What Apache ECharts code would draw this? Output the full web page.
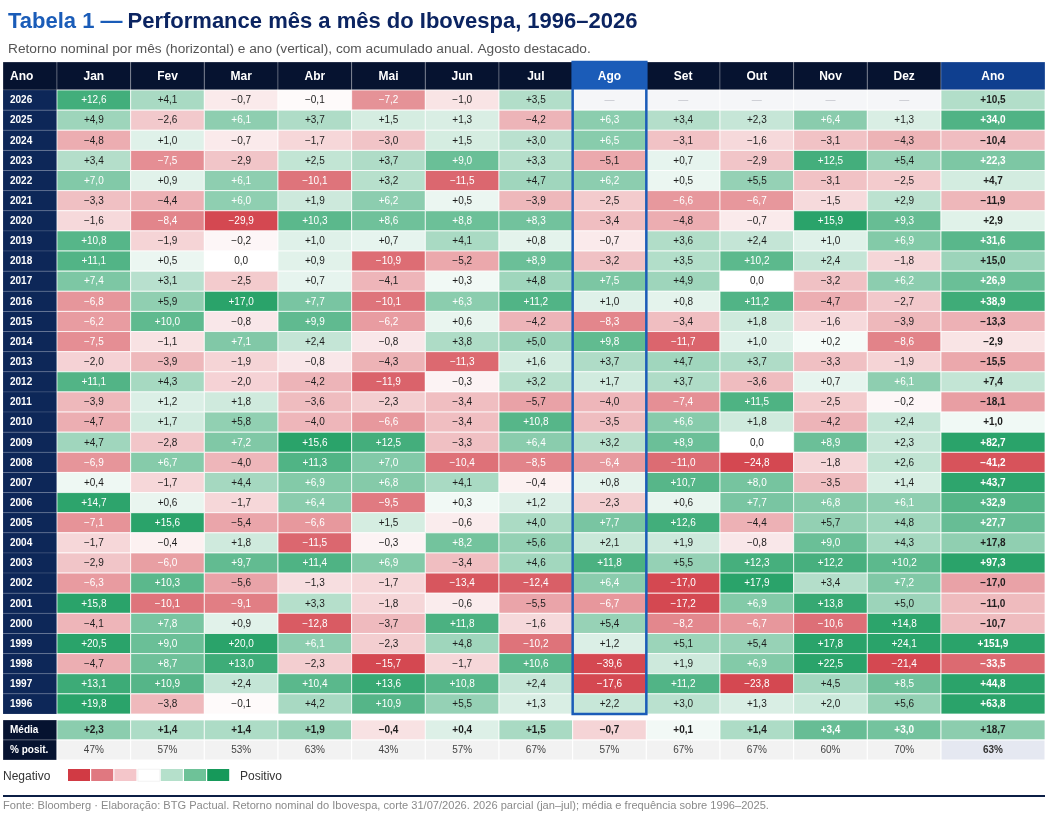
<!DOCTYPE html>
<html lang="pt-BR">
<head>
<meta charset="UTF-8">
<script src="https://cdn.jsdelivr.net/npm/echarts@6/dist/echarts.min.js"></script>
<style>
  html, body { margin: 0; padding: 0; background: #ffffff; }
  #main { width: 1059px; height: 823px; }
</style>
</head>
<body>
<div id="main"></div>
<script>
// ---- data ----
var months = ['Jan', 'Fev', 'Mar', 'Abr', 'Mai', 'Jun', 'Jul', 'Ago', 'Set', 'Out', 'Nov', 'Dez'];
var years = ['2026', '2025', '2024', '2023', '2022', '2021', '2020', '2019', '2018', '2017', '2016',
  '2015', '2014', '2013', '2012', '2011', '2010', '2009', '2008', '2007', '2006', '2005', '2004',
  '2003', '2002', '2001', '2000', '1999', '1998', '1997', '1996'];

// monthly returns (%), Jan..Dez
var r2026 = [12.6, 4.1, -0.7, -0.1, -7.2, -1.0, 3.5, null, null, null, null, null];
var r2025 = [4.9, -2.6, 6.1, 3.7, 1.5, 1.3, -4.2, 6.3, 3.4, 2.3, 6.4, 1.3];
var r2024 = [-4.8, 1.0, -0.7, -1.7, -3.0, 1.5, 3.0, 6.5, -3.1, -1.6, -3.1, -4.3];
var r2023 = [3.4, -7.5, -2.9, 2.5, 3.7, 9.0, 3.3, -5.1, 0.7, -2.9, 12.5, 5.4];
var r2022 = [7.0, 0.9, 6.1, -10.1, 3.2, -11.5, 4.7, 6.2, 0.5, 5.5, -3.1, -2.5];
var r2021 = [-3.3, -4.4, 6.0, 1.9, 6.2, 0.5, -3.9, -2.5, -6.6, -6.7, -1.5, 2.9];
var r2020 = [-1.6, -8.4, -29.9, 10.3, 8.6, 8.8, 8.3, -3.4, -4.8, -0.7, 15.9, 9.3];
var r2019 = [10.8, -1.9, -0.2, 1.0, 0.7, 4.1, 0.8, -0.7, 3.6, 2.4, 1.0, 6.9];
var r2018 = [11.1, 0.5, 0.0, 0.9, -10.9, -5.2, 8.9, -3.2, 3.5, 10.2, 2.4, -1.8];
var r2017 = [7.4, 3.1, -2.5, 0.7, -4.1, 0.3, 4.8, 7.5, 4.9, 0.0, -3.2, 6.2];
var r2016 = [-6.8, 5.9, 17.0, 7.7, -10.1, 6.3, 11.2, 1.0, 0.8, 11.2, -4.7, -2.7];
var r2015 = [-6.2, 10.0, -0.8, 9.9, -6.2, 0.6, -4.2, -8.3, -3.4, 1.8, -1.6, -3.9];
var r2014 = [-7.5, -1.1, 7.1, 2.4, -0.8, 3.8, 5.0, 9.8, -11.7, 1.0, 0.2, -8.6];
var r2013 = [-2.0, -3.9, -1.9, -0.8, -4.3, -11.3, 1.6, 3.7, 4.7, 3.7, -3.3, -1.9];
var r2012 = [11.1, 4.3, -2.0, -4.2, -11.9, -0.3, 3.2, 1.7, 3.7, -3.6, 0.7, 6.1];
var r2011 = [-3.9, 1.2, 1.8, -3.6, -2.3, -3.4, -5.7, -4.0, -7.4, 11.5, -2.5, -0.2];
var r2010 = [-4.7, 1.7, 5.8, -4.0, -6.6, -3.4, 10.8, -3.5, 6.6, 1.8, -4.2, 2.4];
var r2009 = [4.7, -2.8, 7.2, 15.6, 12.5, -3.3, 6.4, 3.2, 8.9, 0.0, 8.9, 2.3];
var r2008 = [-6.9, 6.7, -4.0, 11.3, 7.0, -10.4, -8.5, -6.4, -11.0, -24.8, -1.8, 2.6];
var r2007 = [0.4, -1.7, 4.4, 6.9, 6.8, 4.1, -0.4, 0.8, 10.7, 8.0, -3.5, 1.4];
var r2006 = [14.7, 0.6, -1.7, 6.4, -9.5, 0.3, 1.2, -2.3, 0.6, 7.7, 6.8, 6.1];
var r2005 = [-7.1, 15.6, -5.4, -6.6, 1.5, -0.6, 4.0, 7.7, 12.6, -4.4, 5.7, 4.8];
var r2004 = [-1.7, -0.4, 1.8, -11.5, -0.3, 8.2, 5.6, 2.1, 1.9, -0.8, 9.0, 4.3];
var r2003 = [-2.9, -6.0, 9.7, 11.4, 6.9, -3.4, 4.6, 11.8, 5.5, 12.3, 12.2, 10.2];
var r2002 = [-6.3, 10.3, -5.6, -1.3, -1.7, -13.4, -12.4, 6.4, -17.0, 17.9, 3.4, 7.2];
var r2001 = [15.8, -10.1, -9.1, 3.3, -1.8, -0.6, -5.5, -6.7, -17.2, 6.9, 13.8, 5.0];
var r2000 = [-4.1, 7.8, 0.9, -12.8, -3.7, 11.8, -1.6, 5.4, -8.2, -6.7, -10.6, 14.8];
var r1999 = [20.5, 9.0, 20.0, 6.1, -2.3, 4.8, -10.2, 1.2, 5.1, 5.4, 17.8, 24.1];
var r1998 = [-4.7, 8.7, 13.0, -2.3, -15.7, -1.7, 10.6, -39.6, 1.9, 6.9, 22.5, -21.4];
var r1997 = [13.1, 10.9, 2.4, 10.4, 13.6, 10.8, 2.4, -17.6, 11.2, -23.8, 4.5, 8.5];
var r1996 = [19.8, -3.8, -0.1, 4.2, 10.9, 5.5, 1.3, 2.2, 3.0, 1.3, 2.0, 5.6];

var monthly = [r2026, r2025, r2024, r2023, r2022, r2021, r2020, r2019, r2018, r2017, r2016,
  r2015, r2014, r2013, r2012, r2011, r2010, r2009, r2008, r2007, r2006, r2005, r2004,
  r2003, r2002, r2001, r2000, r1999, r1998, r1997, r1996];

// accumulated return per year, same order as years
var annual = [10.5, 34.0, -10.4, 22.3, 4.7, -11.9, 2.9, 31.6, 15.0, 26.9, 38.9,
  -13.3, -2.9, -15.5, 7.4, -18.1, 1.0, 82.7, -41.2, 43.7, 32.9, 27.7, 17.8,
  97.3, -17.0, -11.0, -10.7, 151.9, -33.5, 44.8, 63.8];

// footer rows (1996–2025)
var footRows = ['Média', '% posit.'];
var mediaMonths = [2.3, 1.4, 1.4, 1.9, -0.4, 0.4, 1.5, -0.7, 0.1, 1.4, 3.4, 3.0];
var mediaAnnual = 18.7;
var positMonths = [47, 57, 53, 63, 43, 57, 67, 57, 67, 67, 60, 70];
var positAnnual = 63;

var highlightMonth = 'Ago';

// ---- styling helpers ----
var FONT = '"Liberation Sans", Arial, sans-serif';
var GREEN = [42, 163, 106];
var RED = [212, 72, 81];

function heat(v, scale) {
  var t = Math.pow(Math.min(1, Math.abs(v) / scale), 0.7);
  var end = v >= 0 ? GREEN : RED;
  var c = end.map(function (e) { return Math.round(255 + (e - 255) * t); });
  return 'rgb(' + c.join(',') + ')';
}

function fmt(v) {
  if (v === null) return '\u2014';
  var s = Math.abs(v).toFixed(1).replace('.', ',');
  return v > 0 ? '+' + s : (v < 0 ? '\u2212' + s : s);
}

// column groups (label, months, annual) x row bands (header, body, footer)
var COLS = [{ left: 3, width: 54 }, { left: 57, width: 884 }, { left: 941, width: 104 }];
var BANDS = [{ top: 62, height: 28 }, { top: 90, height: 624 }, { top: 720, height: 40 }];
var xCats = [['Ano'], months, ['Ano']];
var yCats = [['h'], years, footRows];

var grids = [], xAxes = [], yAxes = [];
BANDS.forEach(function (b, r) {
  COLS.forEach(function (c, k) {
    grids.push({ left: c.left, width: c.width, top: b.top, height: b.height });
    xAxes.push({ type: 'category', gridIndex: r * 3 + k, data: xCats[k], show: false });
    yAxes.push({ type: 'category', gridIndex: r * 3 + k, data: yCats[r], inverse: true, show: false });
  });
});

function cellSeries(gi, cells) {
  return {
    type: 'custom',
    coordinateSystem: 'cartesian2d',
    xAxisIndex: gi,
    yAxisIndex: gi,
    silent: true,
    data: cells.map(function (c) { return [c.x, c.y]; }),
    renderItem: function (params, api) {
      var c = cells[params.dataIndex];
      var p = api.coord([api.value(0), api.value(1)]);
      var s = api.size([1, 1]);
      var x0 = p[0] - s[0] / 2, y0 = p[1] - s[1] / 2;
      return {
        type: 'group',
        children: [
          { type: 'rect', shape: { x: x0, y: y0, width: s[0], height: s[1] },
            style: { fill: c.fill, stroke: c.stroke || 'rgba(255,255,255,0.75)', lineWidth: 1 } },
          { type: 'text', x: c.align === 'left' ? x0 + 7 : p[0], y: p[1] + 0.5,
            style: { text: c.text, fill: c.color, font: c.font, align: c.align || 'center', verticalAlign: 'middle' } }
        ]
      };
    }
  };
}

var series = [];
var NAVY_HEAD = '#061330', NAVY_YEAR = '#0d2758', BLUE_AGO = '#1b5cb8', BLUE_ANO = '#0f3f8f';
var headFont = 'bold 12px ' + FONT;
var cellFont = '10px ' + FONT;
var boldFont = 'bold 10px ' + FONT;
var lineDark = 'rgba(255,255,255,0.25)';

// header
series.push(cellSeries(0, [{ x: 0, y: 0, text: 'Ano', fill: NAVY_HEAD, color: '#fff', font: headFont, align: 'left', stroke: lineDark }]));
series.push(cellSeries(1, months.map(function (m, i) {
  return { x: i, y: 0, text: m, fill: m === highlightMonth ? BLUE_AGO : NAVY_HEAD, color: '#fff', font: headFont, stroke: lineDark };
})));
series.push(cellSeries(2, [{ x: 0, y: 0, text: 'Ano', fill: BLUE_ANO, color: '#fff', font: headFont, stroke: lineDark }]));

// body: year labels
series.push(cellSeries(3, years.map(function (y, i) {
  return { x: 0, y: i, text: y, fill: NAVY_YEAR, color: '#fff', font: boldFont, align: 'left', stroke: 'rgba(255,255,255,0.12)' };
})));
// body: monthly cells
var bodyCells = [];
monthly.forEach(function (row, yi) {
  row.forEach(function (v, xi) {
    if (v === null) {
      bodyCells.push({ x: xi, y: yi, text: fmt(v), fill: '#f5f6f8', color: '#c4c6cc', font: cellFont });
    } else {
      bodyCells.push({ x: xi, y: yi, text: fmt(v), fill: heat(v, 15), color: Math.abs(v) >= 6 ? '#ffffff' : '#1d1d1d', font: cellFont });
    }
  });
});
series.push(cellSeries(4, bodyCells));
// body: annual
series.push(cellSeries(5, annual.map(function (v, i) {
  return { x: 0, y: i, text: fmt(v), fill: heat(v, 45), color: Math.abs(v) >= 20 ? '#ffffff' : '#1d1d1d', font: boldFont };
})));
// highlight frame around the August column
series.push({
  type: 'custom', coordinateSystem: 'cartesian2d', xAxisIndex: 4, yAxisIndex: 4, silent: true, z: 5,
  data: [[months.indexOf(highlightMonth), 0]],
  renderItem: function (params, api) {
    var a = api.coord([api.value(0), 0]);
    var b = api.coord([api.value(0), years.length - 1]);
    var s = api.size([1, 1]);
    return { type: 'rect', shape: { x: a[0] - s[0] / 2, y: a[1] - s[1] / 2 - 28, width: s[0], height: b[1] - a[1] + s[1] + 28 },
      style: { fill: null, stroke: BLUE_AGO, lineWidth: 2.5 } };
  }
});

// footer
series.push(cellSeries(6, footRows.map(function (t, i) {
  return { x: 0, y: i, text: t, fill: NAVY_HEAD, color: '#fff', font: boldFont, align: 'left', stroke: lineDark };
})));
var footCells = [];
mediaMonths.forEach(function (v, i) {
  footCells.push({ x: i, y: 0, text: fmt(v), fill: heat(v, 5.5), color: Math.abs(v) >= 2.8 ? '#ffffff' : '#1d1d1d', font: boldFont });
});
positMonths.forEach(function (v, i) {
  footCells.push({ x: i, y: 1, text: v + '%', fill: '#f2f2f2', color: '#444', font: cellFont, stroke: '#ffffff' });
});
series.push(cellSeries(7, footCells));
series.push(cellSeries(8, [
  { x: 0, y: 0, text: fmt(mediaAnnual), fill: heat(mediaAnnual, 45), color: '#1d1d1d', font: boldFont },
  { x: 0, y: 1, text: positAnnual + '%', fill: '#e5e8f1', color: '#333', font: boldFont, stroke: '#ffffff' }
]));

// legend swatches
var legendColors = ['#d13a44', '#e07880', '#f4c6ca', '#ffffff', '#b5e0cb', '#6ec298', '#16995a'];
var legendGraphics = [
  { type: 'text', left: 3, top: 771, style: { text: 'Negativo', fill: '#333', font: '12px ' + FONT } },
  { type: 'text', left: 240, top: 771, style: { text: 'Positivo', fill: '#333', font: '12px ' + FONT } },
  { type: 'rect', left: 3, top: 795, shape: { width: 1042, height: 2 }, style: { fill: '#0b1e45' } },
  { type: 'text', left: 3, top: 800, style: { text: 'Fonte: Bloomberg \u00b7 Elabora\u00e7\u00e3o: BTG Pactual. Retorno nominal do Ibovespa, corte 31/07/2026. 2026 parcial (jan\u2013jul); m\u00e9dia e frequ\u00eancia sobre 1996\u20132025.', fill: '#8a8a8a', font: '11.1px ' + FONT } }
];
legendColors.forEach(function (c, i) {
  legendGraphics.push({ type: 'rect', left: 68 + i * 23.2, top: 769, shape: { width: 22, height: 12 },
    style: { fill: c, stroke: i === 3 ? '#e6e6e6' : null, lineWidth: 0.5 } });
});

var chart = echarts.init(document.getElementById('main'));
chart.setOption({
  animation: false,
  backgroundColor: '#ffffff',
  title: [
    { left: 3, top: 6, text: '{a|Tabela 1 \u2014} {b|Performance m\u00eas a m\u00eas do Ibovespa, 1996\u20132026}',
      textStyle: { rich: {
        a: { fontSize: 22, fontWeight: 'bold', color: '#1a5cb8', fontFamily: FONT },
        b: { fontSize: 22, fontWeight: 'bold', color: '#0b2461', fontFamily: FONT }
      } } },
    { left: 3, top: 37, text: 'Retorno nominal por m\u00eas (horizontal) e ano (vertical), com acumulado anual. Agosto destacado.',
      textStyle: { fontSize: 13.7, fontWeight: 'normal', color: '#555', fontFamily: FONT } }
  ],
  grid: grids,
  xAxis: xAxes,
  yAxis: yAxes,
  series: series,
  graphic: legendGraphics
});
</script>
</body>
</html>
